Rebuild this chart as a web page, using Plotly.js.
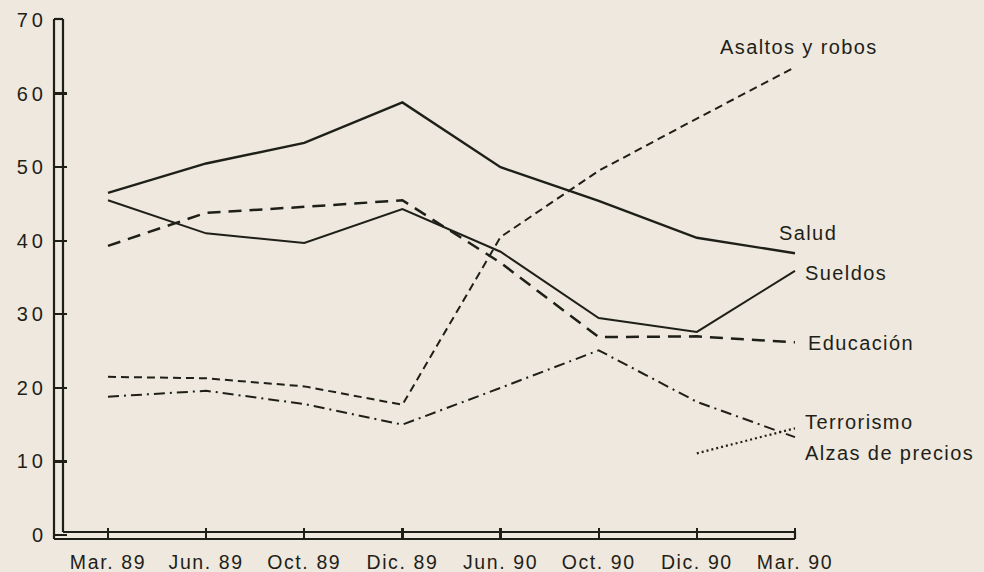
<!DOCTYPE html>
<html>
<head>
<meta charset="utf-8">
<script src="https://cdn.plot.ly/plotly-3.0.1.min.js"></script>
<style>
  html, body { margin: 0; padding: 0; background: #eee8de; }
  #chart { width: 984px; height: 572px; }
  .xtick text { letter-spacing: 1.6px; }
  .annotation-text { letter-spacing: 1.4px; }
  .ytick text { letter-spacing: 4px; }
</style>
</head>
<body>
<div id="chart"></div>
<script>
// ---- data ----
const categories = ["Mar. 89", "Jun. 89", "Oct. 89", "Dic. 89", "Jun. 90", "Oct. 90", "Dic. 90", "Mar. 90"];
const salud      = [46.5, 50.5, 53.3, 58.8, 50.0, 45.4, 40.4, 38.3];
const sueldos    = [45.5, 41.0, 39.7, 44.3, 38.5, 29.5, 27.6, 35.9];
const educacion  = [39.3, 43.8, 44.6, 45.5, 37.0, 26.9, 27.0, 26.2];
const asaltos    = [21.5, 21.3, 20.2, 17.7, 40.5, 49.5, 56.6, 63.6];
const terrorismo = [18.8, 19.6, 17.8, 15.0, 20.0, 25.1, 18.1, 13.3];
const alzas      = [null, null, null, null, null, null, 11.1, 14.5];
const yTicks     = [0, 10, 20, 30, 40, 50, 60, 70];
const seriesNames = ["Salud", "Sueldos", "Educación", "Asaltos y robos", "Terrorismo", "Alzas de precios"];

const ink = "#1f1f19";
const fontFam = "Liberation Sans, Arial, sans-serif";

function tr(name, y, dash, width) {
  return {
    type: "scatter", mode: "lines", name: name,
    x: categories, y: y, connectgaps: false,
    line: { color: ink, width: width, dash: dash },
    hoverinfo: "skip"
  };
}

const data = [
  tr(seriesNames[0], salud, "solid", 2.4),
  tr(seriesNames[1], sueldos, "solid", 2),
  tr(seriesNames[2], educacion, "13px,8px", 2.5),
  tr(seriesNames[3], asaltos, "8px,5px", 2),
  tr(seriesNames[4], terrorismo, "11px,5px,2px,5px", 2),
  tr(seriesNames[5], alzas, "2px,3px", 2.2)
];

// label positions (layout only)
const labelPos = [
  { x: 6.82, y: 41.0 },
  { x: 7.08, y: 35.6 },
  { x: 7.11, y: 26.1 },
  { x: 6.22, y: 66.3 },
  { x: 7.08, y: 15.3 },
  { x: 7.08, y: 11.1 }
];
const annotations = seriesNames.map((n, i) => ({
  x: labelPos[i].x, y: labelPos[i].y, xref: "x", yref: "y",
  text: n, showarrow: false, xanchor: "left", yanchor: "middle",
  font: { family: fontFam, size: 20, color: ink }
}));

const pw = 930, ph = 520;
const ix = 9 / pw, iy = 7 / ph, rx = (795 - 54) / pw;
const L = (x0, y0, x1, y1) => ({ type: "line", xref: "paper", yref: "paper", x0, y0, x1, y1, line: { color: ink, width: 2.2 } });
const shapes = [
  L(0, 0, 0, 1), L(0, 1, ix, 1), L(ix, iy, ix, 1),
  L(0, 0, rx, 0), L(ix, iy, rx, iy), L(rx, 0, rx, iy)
];

const layout = {
  width: 984, height: 572,
  margin: { l: 54, r: 0, t: 19, b: 33 },
  paper_bgcolor: "#eee8de", plot_bgcolor: "#eee8de",
  showlegend: false,
  font: { family: fontFam, color: ink },
  xaxis: {
    type: "category", range: [-0.55, 8.926],
    showgrid: false, zeroline: false, showline: false,
    ticks: "inside", ticklen: 11, tickwidth: 2.2, tickcolor: ink,
    tickfont: { family: fontFam, size: 19.5, color: ink },
    ticklabelstandoff: 9
  },
  yaxis: {
    range: [-0.544, 70.136],
    tickvals: yTicks, ticktext: yTicks.map(String),
    showgrid: false, zeroline: false, showline: false,
    ticks: "inside", ticklen: 13, tickwidth: 2.2, tickcolor: ink,
    tickfont: { family: fontFam, size: 20, color: ink },
    ticklabelstandoff: 6
  },
  shapes: shapes,
  annotations: annotations
};

Plotly.newPlot("chart", data, layout, { displayModeBar: false, staticPlot: true });
</script>
</body>
</html>
